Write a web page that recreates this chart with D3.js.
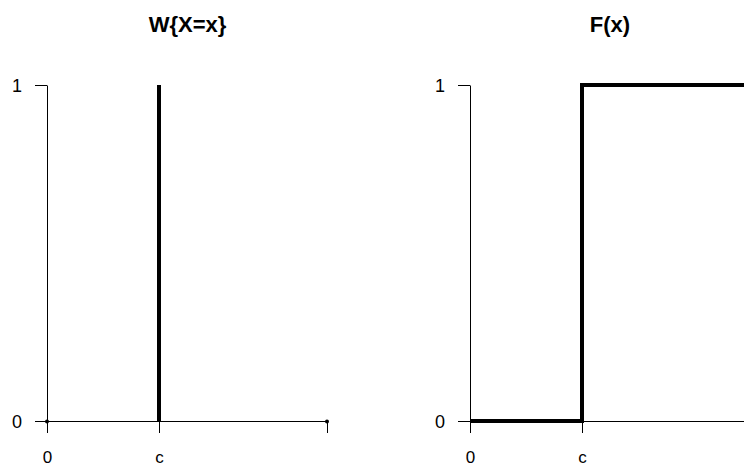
<!DOCTYPE html>
<html>
<head>
<meta charset="utf-8">
<script src="https://cdn.jsdelivr.net/npm/d3@7/dist/d3.min.js"></script>
<style>
  html, body { margin: 0; padding: 0; background: #fff; }
  svg { display: block; }
</style>
</head>
<body>
<svg id="chart" width="744" height="467"></svg>
<script>
// ---- data ----
const xTickValues = [0, 1, 2.5];
const xTickLabels = ["0", "c", ""];
const yTickValues = [0, 1];
const yTickLabels = ["0", "1"];
const c = 1;
// probability function W{X=x}: zero points and spike at c
const pmfZeroX = [0, 2.5];
const pmfZeroY = [0, 0];
const spikeX = [c];
const spikeY = [1];
// distribution function F(x): step
const cdfX = [0, 1, 1, 2.5];
const cdfY = [0, 0, 1, 1];
const titles = ["W{X=x}", "F(x)"];

const svg = d3.select("#chart");
const W = 744, H = 467;
const fontFam = "'Liberation Sans', Arial, Helvetica, sans-serif";

const y = d3.scaleLinear().domain([0, 1]).range([421, 85]);
const panels = [
  { x0: 47, title: titles[0], tx: 187.5 },
  { x0: 470, title: titles[1], tx: 610 }
];

panels.forEach((p, i) => {
  const x = d3.scaleLinear().domain([0, 2.5]).range([p.x0, p.x0 + 280]);
  const g = svg.append("g");

  // title
  g.append("text")
    .attr("x", p.tx).attr("y", 32)
    .attr("text-anchor", "middle")
    .attr("font-family", fontFam)
    .attr("font-weight", "bold")
    .attr("font-size", 22)
    .text(p.title);

  // y axis
  const yAx = d3.axisLeft(y).tickValues(yTickValues)
    .tickFormat(d => yTickLabels[yTickValues.indexOf(d)])
    .tickSize(12).tickSizeOuter(0);
  const gy = g.append("g").attr("transform", `translate(${p.x0},0)`).call(yAx);
  gy.selectAll("text").attr("x", -30).attr("text-anchor", "middle")
    .attr("font-family", fontFam).attr("font-size", 18).attr("dy", "0.35em");

  // x axis
  const xAx = d3.axisBottom(x).tickValues(i === 0 ? xTickValues : xTickValues.slice(0, 2))
    .tickFormat(d => xTickLabels[xTickValues.indexOf(d)])
    .tickSize(12).tickSizeOuter(0);
  const gx = g.append("g").attr("transform", `translate(0,${y(0)})`).call(xAx);
  gx.selectAll("text").attr("y", 36).attr("dy", "0.35em")
    .attr("font-family", fontFam).attr("font-size", 17);
  if (i === 1) {
    gx.select(".domain").attr("d", `M${p.x0},0.5H${W + 5}`);
  } else {
    gx.select(".domain").attr("d", `M${p.x0},0.5H${x(2.5) + 1}`);
  }
  [gx, gy].forEach(a => a.selectAll("line,path").attr("stroke", "#000").attr("stroke-width", 1));

  if (i === 0) {
    // spike
    g.selectAll(".spike").data(spikeX).enter().append("line")
      .attr("x1", d => x(d)).attr("x2", d => x(d))
      .attr("y1", y(0)).attr("y2", (d, k) => y(spikeY[k]))
      .attr("stroke", "#000").attr("stroke-width", 4);
    // zero points
    g.selectAll(".pt").data(pmfZeroX).enter().append("circle")
      .attr("cx", d => x(d)).attr("cy", (d, k) => y(pmfZeroY[k]) + 0.5)
      .attr("r", 2).attr("fill", "#000");
  } else {
    const line = d3.line().x(d => x(d[0])).y(d => y(d[1]));
    g.append("path")
      .datum(cdfX.map((v, k) => [v, cdfY[k]]))
      .attr("d", line)
      .attr("fill", "none").attr("stroke", "#000").attr("stroke-width", 4)
      .attr("stroke-linejoin", "miter");
  }
});
</script>
</body>
</html>
